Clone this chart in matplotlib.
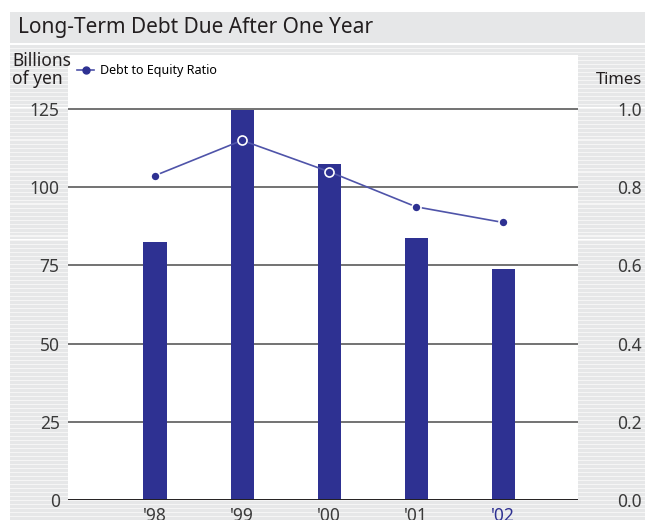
import matplotlib
matplotlib.use("Agg")
import matplotlib.pyplot as plt
from matplotlib.patches import Rectangle
from matplotlib.lines import Line2D

plt.rcParams['font.family'] = ['Noto Sans', 'DejaVu Sans']

# Data
years = ["'98", "'99", "'00", "'01", "'02"]
debt = [82.5, 124.7, 107.4, 83.8, 73.9]          # billions of yen
ratio = [0.83, 0.92, 0.84, 0.75, 0.71]           # debt to equity, times
left_ticks = [0, 25, 50, 75, 100, 125]
right_ticks = [0.0, 0.2, 0.4, 0.6, 0.8, 1.0]

BAR = '#2e3192'
LINE = '#4f54a9'
GRAY = '#e6e7e8'
W, H = 645, 520

fig = plt.figure(figsize=(W / 100, H / 100), dpi=100)

# striped backdrop below the title band
y = 45
while y < H:
    fig.patches.append(Rectangle((10 / W, 1 - (y + 2.5) / H), 1, 2.5 / H,
                                 transform=fig.transFigure, color=GRAY, lw=0, zorder=-3))
    fig.patches.append(Rectangle((10 / W, 1 - (y + 4) / H), 1, 1.5 / H,
                                 transform=fig.transFigure, color='#f5f5f5', lw=0, zorder=-3))
    y += 4

# title band
fig.patches.append(Rectangle((10 / W, 1 - 43 / H), 1, 31 / H,
                             transform=fig.transFigure, color=GRAY, lw=0, zorder=-2))
fig.text(18 / W, 1 - 28 / H, 'Long-Term Debt Due After One Year',
         fontsize=15, color='#231f20', va='center', ha='left')

ax = fig.add_axes([68 / W, 20 / H, 510 / W, 445 / H])
ax.set_facecolor('white')
x = list(range(len(years)))

ax.bar(x, debt, width=0.265, color=BAR, zorder=2)
ax.set_xlim(-1.0, 4.86)
ax.set_ylim(0, 142.3)
for t in left_ticks[1:]:
    ax.axhline(t, color='#5a5a5a', lw=1.2, zorder=1)
ax.axhline(0, color='#231f20', lw=1.4, zorder=3)

ax.set_yticks(left_ticks)
ax.set_yticklabels([str(t) for t in left_ticks])
ax.set_xticks(x)
ax.set_xticklabels(years)
ax.tick_params(axis='y', length=0, pad=6, labelsize=12.5, labelcolor='#3a3a3a')
ax.tick_params(axis='x', length=0, pad=5, labelsize=12.5, labelcolor='#3a3a3a')
ax.get_xticklabels()[-1].set_color(BAR)
for s in ax.spines.values():
    s.set_visible(False)

ax2 = ax.twinx()
ax2.set_ylim(0, 142.3 / 125)
ax2.plot(x, ratio, color=LINE, lw=1.2, marker='o', markersize=6.5,
         markerfacecolor=BAR, markeredgecolor='white', markeredgewidth=1.2, zorder=4)
ax2.set_yticks(right_ticks)
ax2.set_yticklabels([f'{t:.1f}' for t in right_ticks], ha='right')
ax2.tick_params(axis='y', length=0, pad=46, labelsize=12.5, labelcolor='#3a3a3a')
for s in ax2.spines.values():
    s.set_visible(False)

handle = Line2D([], [], color=LINE, lw=1.2, marker='o', markersize=5,
                markerfacecolor=BAR, markeredgecolor=BAR)
ax2.legend([handle], ['Debt to Equity Ratio'], loc='upper left',
           bbox_to_anchor=(0.0, 1.0), frameon=False, fontsize=9,
           handlelength=1.3, handletextpad=0.5, borderaxespad=0.35)

fig.text(12 / W, 1 - 70 / H, 'Billions\nof yen', fontsize=12.5, color='#231f20',
         ha='left', va='center', linespacing=0.95)
fig.text(642 / W, 1 - 80 / H, 'Times', fontsize=12, color='#231f20',
         ha='right', va='center')

fig.savefig('out.png', dpi=100)
